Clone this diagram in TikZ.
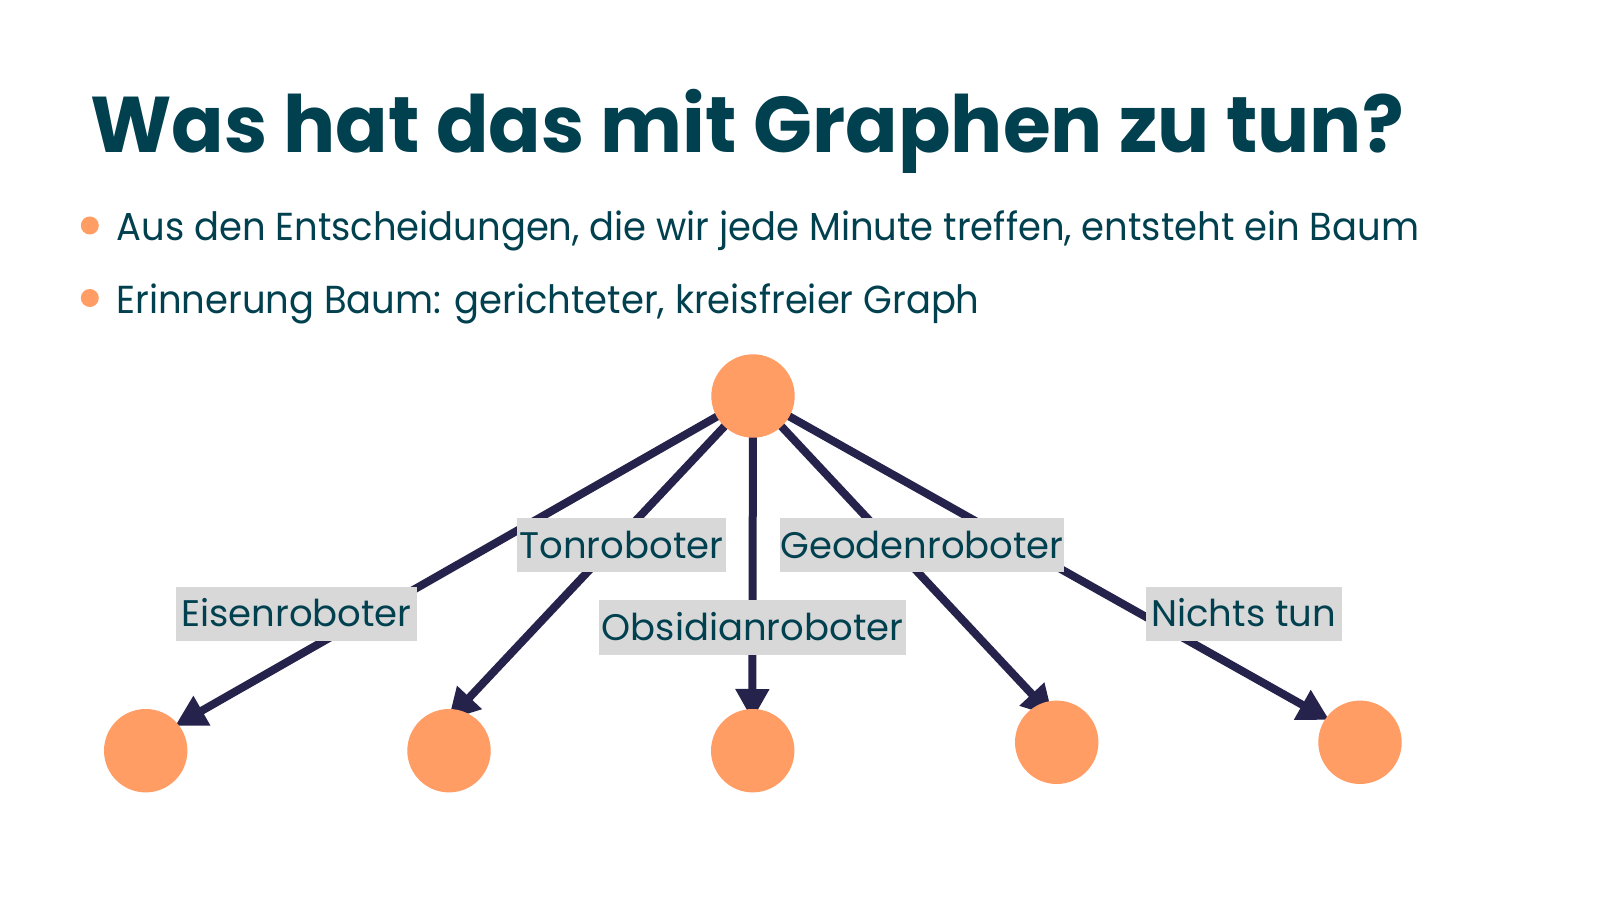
\documentclass[tikz,border=0pt]{standalone}
\usepackage{fontspec}
\setmainfont{Poppins}
\newfontfamily\titlefont{Poppins}[FakeStretch=0.98]
\newfontfamily\bodyfont{Poppins}[FakeStretch=0.947]
\usetikzlibrary{arrows.meta,calc}
\definecolor{txtcol}{HTML}{00404F}
\definecolor{edgecol}{HTML}{25234B}
\definecolor{orng}{HTML}{FF9D65}
\definecolor{lblbg}{HTML}{D8D8D8}
\pgfdeclarelayer{bg}
\pgfsetlayers{bg,main}
\begin{document}
\begin{tikzpicture}[x=1pt,y=1pt,
  dot/.style={circle, fill=orng, minimum size=83.4pt, inner sep=0pt},
  bul/.style={circle, fill=orng, minimum size=18pt, inner sep=0pt},
  edgearr/.style={draw=edgecol, line width=8pt, -{Triangle[length=31pt,width=32pt]}},
  lbl/.style={fill=lblbg, text=txtcol, font=\fontsize{37}{40}\selectfont, inner sep=0pt,
    minimum height=54pt, text height=26pt, text depth=0pt},
  bodytxt/.style={anchor=base west, text=txtcol, inner sep=0pt, font=\bodyfont\fontsize{39}{44}\selectfont}
]
\useasboundingbox (0,0) rectangle (1600,900);

\node[anchor=base west, text=txtcol, inner sep=0pt, font=\titlefont\fontsize{79}{86}\selectfont\bfseries] (title) at (89.8,747) {Was hat das mit Graphen zu tun?};

\node[bul] (b1) at (89.8,674.5) {};
\node[bul] (b2) at (89.8,602) {};
\node[bodytxt] (t1) at (116.3,659) {Aus den Entscheidungen, die wir jede Minute treffen, entsteht ein Baum};
\node[bodytxt] (t2) at (116.3,586.7) {Erinnerung Baum: gerichteter, kreisfreier Graph};

\node[dot] (top) at (753,504) {};
\node[dot] (c1) at (145.7,149.3) {};
\node[dot] (c2) at (449,149.3) {};
\node[dot] (c3) at (752.7,149.3) {};
\node[dot] (c4) at (1056.7,157.7) {};
\node[dot] (c5) at (1360,157.7) {};

\begin{pgfonlayer}{bg}
\fill[white] (0,0) rectangle (1600,900);
\draw[edgearr] (top.center) -- ($(c1)+(29.3,24.7)$);
\draw[edgearr] (top.center) -- ($(c2)+(-0.7,30.7)$);
\draw[edgearr] (top.center) -- ($(c3)+(-0.4,30.7)$);
\draw[edgearr] (top.center) -- ($(c4)+(-3.7,25.6)$);
\draw[edgearr] (top.center) -- ($(c5)+(-30.7,22.3)$);
\end{pgfonlayer}

\node[lbl, minimum width=241.8pt] (l1) at (296.4,286.2) {Eisenroboter};
\node[lbl, minimum width=208.2pt] (l2) at (621.4,354.6) {Tonroboter};
\node[lbl, minimum width=307pt] (l3) at (752.5,272.5) {Obsidianroboter};
\node[lbl, minimum width=284.7pt] (l4) at (922,354.6) {Geodenroboter};
\node[lbl, minimum width=195.7pt] (l5) at (1243.7,286.2) {Nichts tun};
\end{tikzpicture}
\end{document}
